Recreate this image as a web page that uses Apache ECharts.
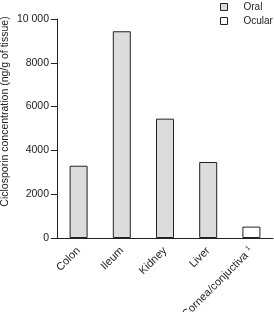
<!DOCTYPE html>
<html>
<head>
<meta charset="utf-8">
<script src="https://cdn.jsdelivr.net/npm/echarts@6/dist/echarts.min.js"></script>
<style>
  html, body { margin: 0; padding: 0; background: #fff; }
  #chart { width: 274px; height: 312px; }
</style>
</head>
<body>
<div id="chart"></div>
<script>
// tissue categories and read-off values (ng/g of tissue)
const tissues = ['Colon', 'Ileum', 'Kidney', 'Liver', 'Cornea/conjuctiva'];
const oralValues = [3300, 9440, 5450, 3470, '-'];
const ocularValues = ['-', '-', '-', '-', 520];
const yTicks = [0, 2000, 4000, 6000, 8000, 10000];

const font = 'Liberation Sans, Arial, sans-serif';
const ink = '#222';

let myChart = echarts.init(document.getElementById('chart'));

let option = {
    animation: false,
    textStyle: {fontFamily: font},
    legend: {
        orient: 'vertical',
        left: 215,
        top: 0,
        padding: [2, 5, 5, 5],
        itemWidth: 7,
        itemHeight: 7,
        itemGap: 4,
        icon: 'rect',
        itemStyle: {borderWidth: 1, borderColor: ink},
        textStyle: {fontSize: 10, color: ink, fontFamily: font, padding: [0, 0, 0, 11]},
        data: ['Oral', 'Ocular']
    },
    grid: {left: 57, right: 1, top: 19, bottom: 74, outerBoundsMode: 'none'},
    xAxis: {
        type: 'category',
        data: tissues,
        axisLine: {lineStyle: {color: ink, width: 1}},
        axisTick: {show: false},
        axisLabel: {
            interval: 0,
            rotate: 45,
            margin: 11,
            fontSize: 11,
            color: ink,
            fontFamily: font,
            formatter: v => v === 'Cornea/conjuctiva' ? v + ' {sup|1}' : v,
            rich: {sup: {fontSize: 7, verticalAlign: 'top', padding: [0, 0, 6, 0], color: ink}}
        }
    },
    yAxis: {
        type: 'value',
        min: 0,
        max: 10000,
        interval: 2000,
        name: 'Ciclosporin concentration (ng/g of tissue)',
        nameLocation: 'middle',
        nameGap: 46,
        nameMoveOverlap: false,
        nameTextStyle: {fontSize: 10.5, color: ink, fontFamily: font, padding: [0, 0, 0, 34]},
        axisLine: {show: true, lineStyle: {color: ink, width: 1}},
        axisTick: {show: true, length: 6, lineStyle: {color: ink}},
        splitLine: {show: false},
        axisLabel: {
            fontSize: 10.5,
            color: ink,
            margin: 8,
            fontFamily: font,
            formatter: v => yTicks.includes(v) ? (v >= 10000 ? '10 000' : String(v)) : ''
        }
    },
    series: [
        {
            name: 'Oral',
            type: 'bar',
            data: oralValues,
            barWidth: 18,
            barGap: '-100%',
            itemStyle: {color: '#dcdcdc', borderColor: ink, borderWidth: 1}
        },
        {
            name: 'Ocular',
            type: 'bar',
            data: ocularValues,
            barWidth: 18,
            itemStyle: {color: '#ffffff', borderColor: ink, borderWidth: 1}
        }
    ]
};

myChart.setOption(option);
</script>
</body>
</html>
